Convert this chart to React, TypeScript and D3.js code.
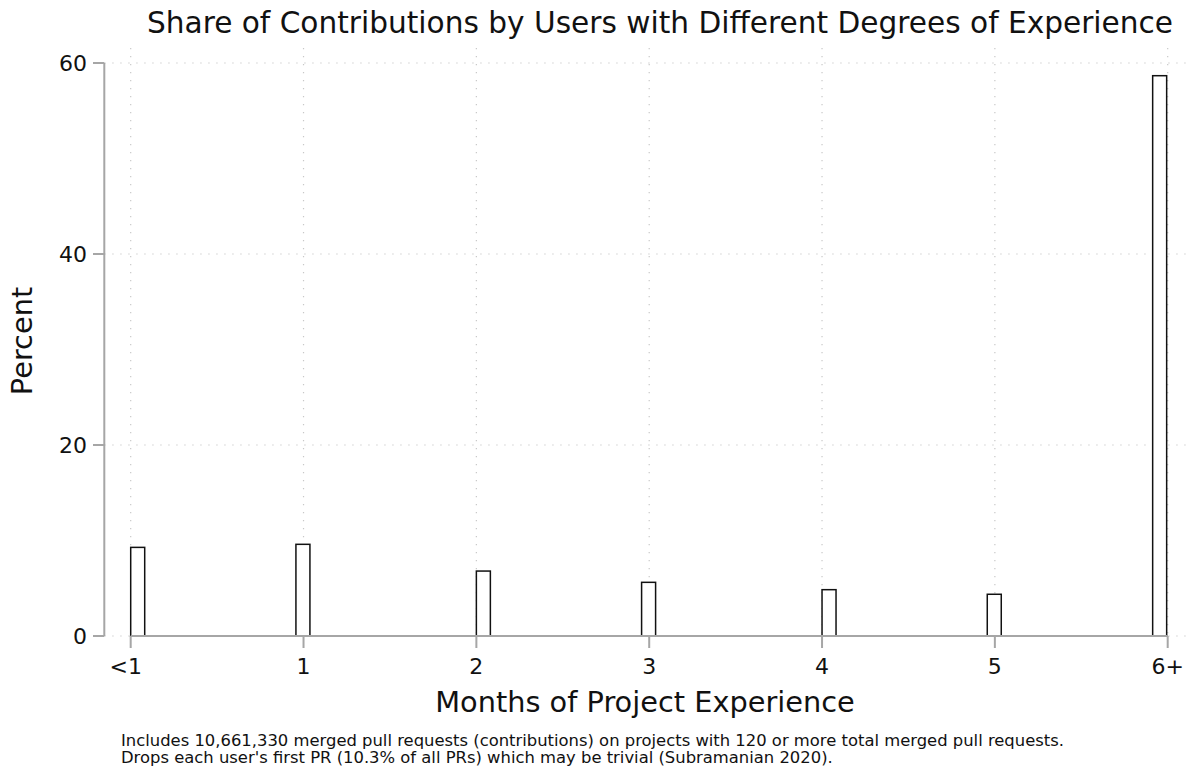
import React, { useEffect, useRef } from "react";
import * as d3 from "d3";

const categories = ["<1", "1", "2", "3", "4", "5", "6+"];
const tickPositions = [0, 1, 2, 3, 4, 5, 6];
const barStart = [0, 0.956, 2.0, 2.956, 4.0, 4.956, 5.913];
const percentValues = [9.28, 9.6, 6.8, 5.62, 4.85, 4.37, 58.67];
const yTicks = [0, 20, 40, 60];
const barWidth = 0.081;

const title = "Share of Contributions by Users with Different Degrees of Experience";
const xTitle = "Months of Project Experience";
const yTitle = "Percent";
const notes = [
  "Includes 10,661,330 merged pull requests (contributions) on projects with 120 or more total merged pull requests.",
  "Drops each user's first PR (10.3% of all PRs) which may be trivial (Subramanian 2020).",
];

export default function App() {
  const ref = useRef<SVGSVGElement>(null);
  useEffect(() => {
    const svg = d3.select(ref.current);
    svg.selectAll("*").remove();
    const W = 1190, H = 776;
    const font = "DejaVu Sans, sans-serif";
    const x = d3.scaleLinear().domain([0, 6]).range([130.7, 1167.7]);
    const y = d3.scaleLinear().domain([0, 60]).range([636, 63]);
    const plotLeft = 104.3, plotRight = 1188, plotTop = 48;
    const axisColor = "#a6a6a6";
    const gridColor = "#c8c8c8";

    svg.append("rect").attr("width", W).attr("height", H).attr("fill", "#fff");

    // gridlines
    const g = svg.append("g");
    g.selectAll("line.hg").data(yTicks).enter().append("line")
      .attr("x1", plotLeft).attr("x2", plotRight)
      .attr("y1", d => y(d)).attr("y2", d => y(d))
      .attr("stroke", gridColor).attr("stroke-width", 1.2)
      .attr("stroke-dasharray", "1.3,6.7");
    g.selectAll("line.vg").data(tickPositions).enter().append("line")
      .attr("x1", d => x(d)).attr("x2", d => x(d))
      .attr("y1", plotTop).attr("y2", y(0))
      .attr("stroke", gridColor).attr("stroke-width", 1.2)
      .attr("stroke-dasharray", "1.3,6.7");

    // bars
    svg.append("g").selectAll("rect").data(percentValues).enter().append("rect")
      .attr("x", (d, i) => x(barStart[i]))
      .attr("width", (d, i) => x(barStart[i] + barWidth) - x(barStart[i]))
      .attr("y", d => y(d))
      .attr("height", d => y(0) - y(d))
      .attr("fill", "#fff").attr("stroke", "#111").attr("stroke-width", 1.5);

    // y axis
    svg.append("line").attr("x1", plotLeft).attr("x2", plotLeft)
      .attr("y1", y(60)).attr("y2", y(0)).attr("stroke", axisColor).attr("stroke-width", 2);
    svg.append("g").selectAll("line").data(yTicks).enter().append("line")
      .attr("x1", 93).attr("x2", plotLeft).attr("y1", d => y(d)).attr("y2", d => y(d))
      .attr("stroke", axisColor).attr("stroke-width", 2);
    svg.append("g").selectAll("text").data(yTicks).enter().append("text")
      .attr("x", 87).attr("y", d => y(d)).attr("dy", "0.36em")
      .attr("text-anchor", "end").attr("font-family", font).attr("font-size", 22)
      .attr("fill", "#111").text(d => String(d));

    // x axis
    svg.append("line").attr("x1", x(0)).attr("x2", x(6))
      .attr("y1", y(0)).attr("y2", y(0)).attr("stroke", axisColor).attr("stroke-width", 2);
    svg.append("g").selectAll("line").data(tickPositions).enter().append("line")
      .attr("x1", d => x(d)).attr("x2", d => x(d)).attr("y1", y(0)).attr("y2", 648)
      .attr("stroke", axisColor).attr("stroke-width", 2);
    svg.append("g").selectAll("text").data(categories).enter().append("text")
      .attr("x", (d, i) => x(tickPositions[i]) + (i === 0 ? -5 : 0)).attr("y", 674)
      .attr("text-anchor", "middle").attr("font-family", font).attr("font-size", 22)
      .attr("fill", "#111").text(d => d);

    // titles
    svg.append("text").attr("x", 660).attr("y", 33).attr("text-anchor", "middle")
      .attr("font-family", font).attr("font-size", 29.6).attr("fill", "#111").text(title);
    svg.append("text").attr("x", 645).attr("y", 712).attr("text-anchor", "middle")
      .attr("font-family", font).attr("font-size", 28.8).attr("fill", "#111").text(xTitle);
    svg.append("text").attr("transform", "translate(32,341) rotate(-90)").attr("text-anchor", "middle")
      .attr("font-family", font).attr("font-size", 28.8).attr("fill", "#111").text(yTitle);
    svg.append("g").selectAll("text").data(notes).enter().append("text")
      .attr("x", 121).attr("y", (d, i) => 746 + i * 17)
      .attr("font-family", font).attr("font-size", 16.4).attr("fill", "#111").text(d => d);
  }, []);
  return (
    <svg ref={ref} width={1190} height={776} style={{ display: "block", position: "absolute", left: 0, top: 0 }} />
  );
}
